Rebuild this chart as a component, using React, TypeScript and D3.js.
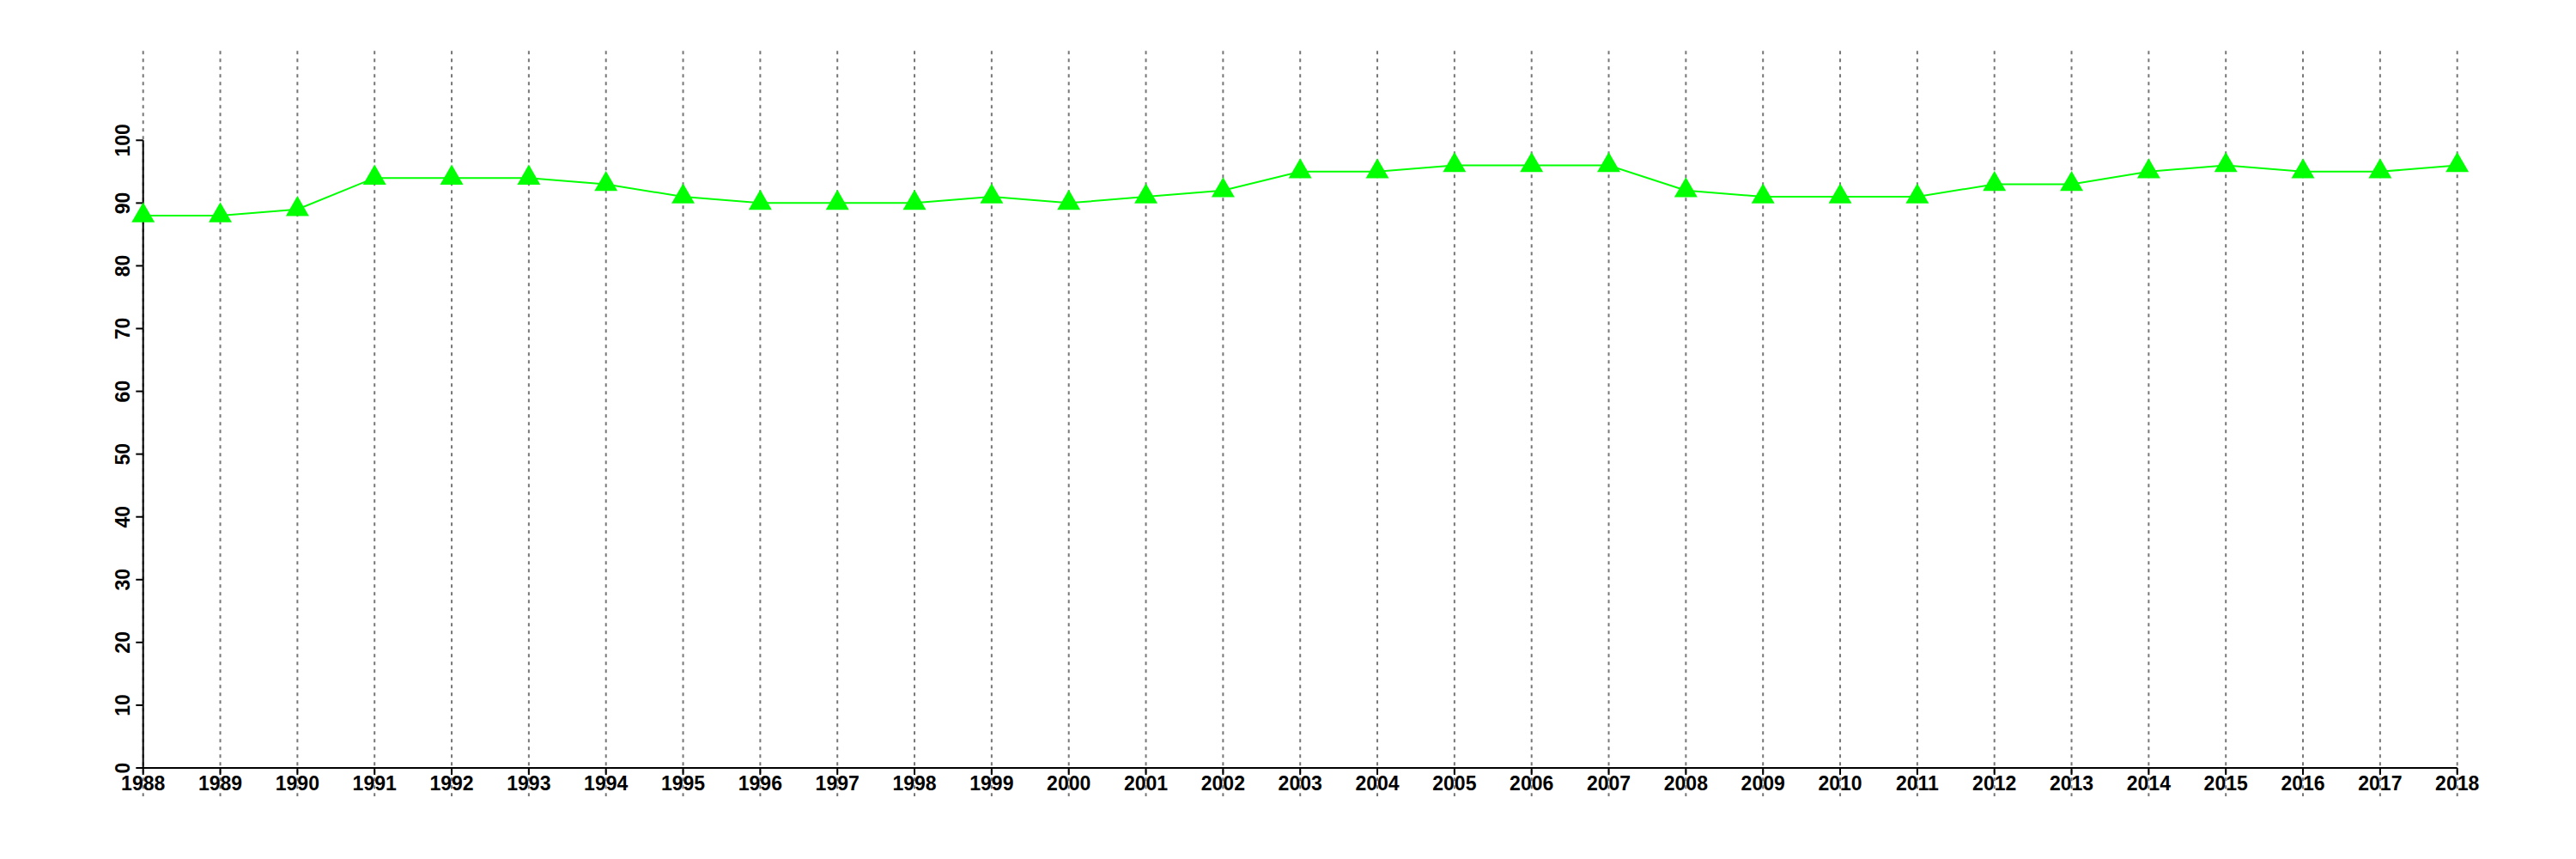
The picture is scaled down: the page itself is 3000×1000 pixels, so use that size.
import React from "react";
import * as d3 from "d3";

const years: number[] = [1988,1989,1990,1991,1992,1993,1994,1995,1996,1997,1998,1999,2000,2001,2002,2003,2004,2005,2006,2007,2008,2009,2010,2011,2012,2013,2014,2015,2016,2017,2018];
const values: number[] = [88,88,89,94,94,94,93,91,90,90,90,91,90,91,92,95,95,96,96,96,92,91,91,91,93,93,95,96,95,95,96];
const yTicks: number[] = [0,10,20,30,40,50,60,70,80,90,100];

const W = 3000, H = 1000;

export default function App() {
  const x = d3.scaleLinear().domain([1988, 2018]).range([166.7, 2861.7]);
  const y = d3.scaleLinear().domain([0, 100]).range([894, 163.3]);
  const line = d3.line<number>().x((_, i) => x(years[i])).y((v) => y(v));
  const tri = d3.symbol().type(d3.symbolTriangle).size(315)();
  const font = "'Liberation Sans', Arial, Helvetica, sans-serif";
  return (
    <svg width={W} height={H} style={{ position: "absolute", left: 0, top: 0, background: "#fff" }}>
      <rect x={0} y={0} width={W} height={H} fill="#fff" />
      {years.map((yr) => (
        <line key={"g" + yr} x1={x(yr)} x2={x(yr)} y1={59.3} y2={927} stroke="#777" strokeWidth={2} strokeDasharray="4,5" />
      ))}
      {/* axes */}
      <line x1={x(1988)} x2={x(2018)} y1={y(0)} y2={y(0)} stroke="#000" strokeWidth={2} />
      {years.map((yr) => (
        <line key={"xt" + yr} x1={x(yr)} x2={x(yr)} y1={y(0)} y2={y(0) + 8} stroke="#000" strokeWidth={2} />
      ))}
      {years.map((yr) => (
        <text key={"xl" + yr} x={x(yr)} y={920} textAnchor="middle" fontFamily={font} fontWeight="bold" fontSize={23} fill="#000">{yr}</text>
      ))}
      <line x1={x(1988)} x2={x(1988)} y1={y(0)} y2={y(100)} stroke="#000" strokeWidth={2} />
      {yTicks.map((t) => (
        <line key={"yt" + t} x1={x(1988) - 8.4} x2={x(1988)} y1={y(t)} y2={y(t)} stroke="#000" strokeWidth={2} />
      ))}
      {yTicks.map((t) => (
        <text key={"yl" + t} transform={`translate(151,${y(t)}) rotate(-90)`} textAnchor="middle" fontFamily={font} fontWeight="bold" fontSize={23} fill="#000">{t}</text>
      ))}
      <path d={line(values) || ""} fill="none" stroke="#00ff00" strokeWidth={2} />
      {values.map((v, i) => (
        <path key={"p" + i} d={tri || ""} transform={`translate(${x(years[i])},${y(v)})`} fill="#00ff00" />
      ))}
    </svg>
  );
}
